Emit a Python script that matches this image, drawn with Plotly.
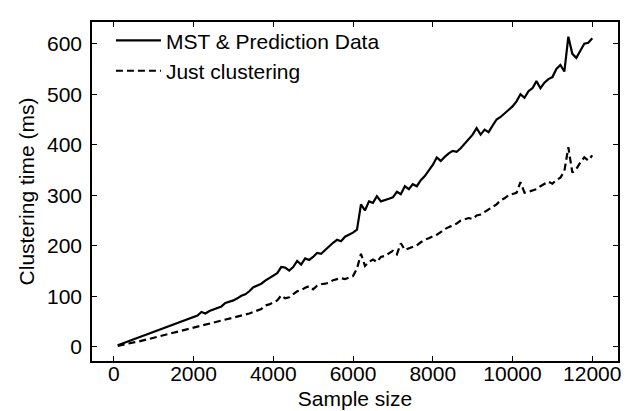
import plotly.graph_objects as go

sample_size = list(range(100, 12001, 100))

mst_prediction = [
    3, 6, 8, 11, 14, 17, 20, 23, 26, 29,
    32, 35, 38, 41, 44, 47, 50, 53, 56, 59,
    62, 69, 66, 71, 74, 77, 80, 87, 89, 92,
    96, 101, 104, 110, 118, 121, 125, 131, 136, 141,
    146, 158, 157, 151, 158, 170, 163, 175, 172, 178,
    186, 184, 192, 198, 206, 212, 209, 218, 222, 226,
    232, 282, 270, 288, 285, 298, 288, 290, 293, 296,
    307, 302, 318, 312, 322, 318, 330, 338, 348, 360,
    375, 368, 376, 383, 388, 386, 393, 402, 412, 420,
    433, 420, 430, 425, 438, 450, 455, 462, 470, 476,
    486, 500, 493, 506, 512, 526, 512, 523, 530, 534,
    550, 558, 545, 614, 580, 572, 586, 600, 602, 611,
]

just_clustering = [
    2, 4, 6, 8, 9, 10, 12, 14, 16, 18,
    20, 21, 23, 25, 27, 29, 31, 33, 35, 37,
    39, 41, 44, 46, 48, 50, 51, 53, 55, 57,
    59, 61, 64, 66, 69, 72, 75, 82, 84, 88,
    92, 102, 96, 98, 104, 110, 112, 117, 120, 114,
    121, 124, 125, 127, 132, 134, 136, 134, 137, 140,
    155, 184, 160, 168, 173, 168, 178, 180, 185, 190,
    183, 205, 192, 195, 198, 201, 207, 212, 215, 218,
    222, 227, 233, 237, 240, 244, 250, 252, 255, 253,
    260, 262, 267, 272, 276, 282, 290, 294, 300, 302,
    305, 326, 305, 307, 309, 312, 318, 322, 327, 323,
    330, 335, 348, 395, 345, 352, 365, 375, 369, 379,
]

x_ticks = [0, 2000, 4000, 6000, 8000, 10000, 12000]
y_ticks = [0, 100, 200, 300, 400, 500, 600]

FONT = "Liberation Sans, Arial, sans-serif"

fig = go.Figure()
fig.add_trace(go.Scatter(
    x=sample_size, y=mst_prediction, mode="lines",
    name="MST & Prediction Data",
    line=dict(color="black", width=2.2),
))
fig.add_trace(go.Scatter(
    x=sample_size, y=just_clustering, mode="lines",
    name="Just clustering",
    line=dict(color="black", width=2.2, dash="7px,4px"),
))

axis_common = dict(
    showline=True, linecolor="black", linewidth=1.5, mirror="ticks",
    ticks="inside", ticklen=5, tickwidth=1.2, tickcolor="black",
    showgrid=False, zeroline=False,
    tickfont=dict(family=FONT, size=21, color="black"),
)

fig.update_xaxes(
    range=[-545, 12645], tickvals=x_ticks,
    ticktext=[str(v) for v in x_ticks],
    ticklabelstandoff=-7,
    title=dict(text="Sample size", font=dict(family=FONT, size=21, color="black"), standoff=7),
    **axis_common,
)
fig.update_yaxes(
    range=[-28, 643], tickvals=y_ticks,
    ticktext=[str(v) for v in y_ticks],
    ticklabelstandoff=4,
    title=dict(text="Clustering time (ms)", font=dict(family=FONT, size=21, color="black"), standoff=7),
    **axis_common,
)

fig.update_layout(
    width=635, height=411,
    margin=dict(l=84, r=25, t=13, b=51),
    paper_bgcolor="white", plot_bgcolor="white",
    showlegend=True,
    legend=dict(
        x=0.036, y=1.005, xanchor="left", yanchor="top",
        bgcolor="rgba(0,0,0,0)", borderwidth=0,
        itemwidth=45,
        font=dict(family=FONT, size=21, color="black"),
    ),
)

fig.write_html("out.html")
